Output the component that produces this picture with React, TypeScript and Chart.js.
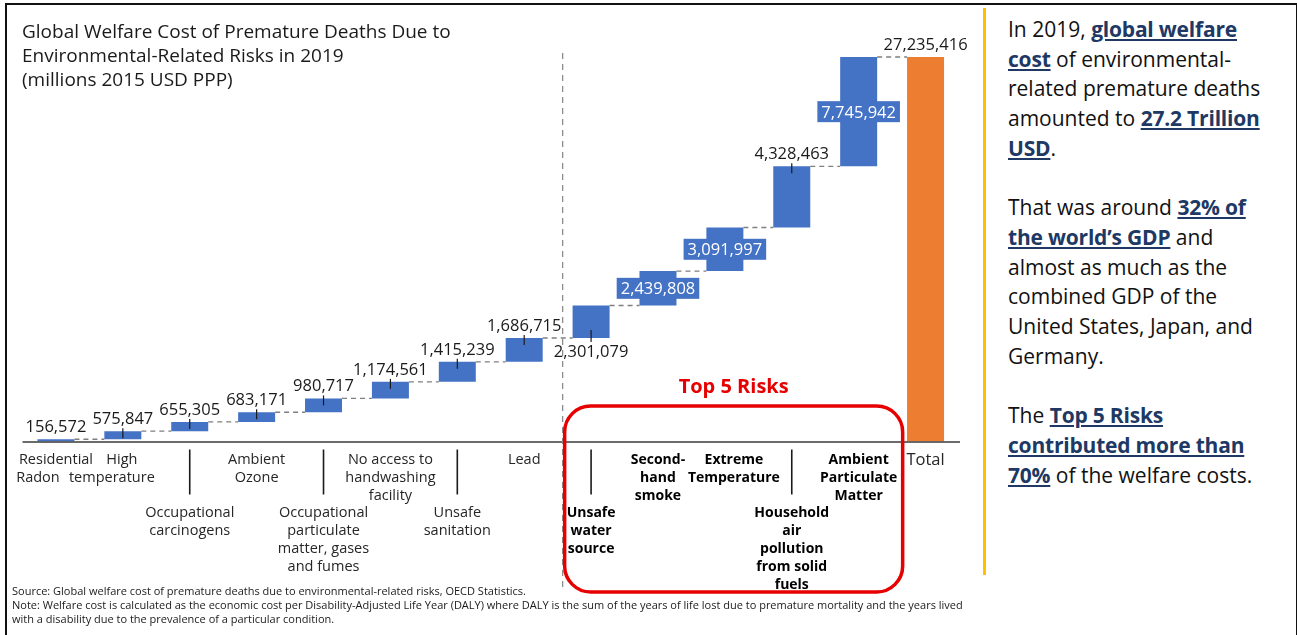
import React, { useEffect, useRef } from 'react';
import { Chart, registerables } from 'chart.js';

Chart.register(...registerables);

// Risk categories, wrapped the way they are printed under the axis
const categories: string[][] = [
  ['Residential', 'Radon'],
  ['High', 'temperature'],
  ['Occupational', 'carcinogens'],
  ['Ambient', 'Ozone'],
  ['Occupational', 'particulate', 'matter, gases', 'and fumes'],
  ['No access to', 'handwashing', 'facility'],
  ['Unsafe', 'sanitation'],
  ['Lead'],
  ['Unsafe', 'water', 'source'],
  ['Second-', 'hand', 'smoke'],
  ['Extreme', 'Temperature'],
  ['Household', 'air', 'pollution', 'from solid', 'fuels'],
  ['Ambient', 'Particulate', 'Matter'],
  ['Total'],
];

// Welfare cost per risk (millions 2015 USD PPP)
const riskCosts: number[] = [
  156572, 575847, 655305, 683171, 980717, 1174561, 1415239, 1686715,
  2301079, 2439808, 3091997, 4328463, 7745942,
];
const totalCost = 27235416;

// Label row under the axis (2 = lower row, reached by a tick line)
const labelRow = [1, 1, 2, 1, 2, 1, 2, 1, 2, 1, 1, 2, 1, 1];
// Where each value label sits relative to its bar
const valuePlacement = [
  'above', 'above', 'above', 'above', 'above', 'above', 'above', 'above',
  'below', 'inside', 'inside', 'above', 'inside', 'above',
];
const topFiveFrom = 8;
const topFiveTo = 12;

const BLUE = '#4472C4';
const ORANGE = '#ED7D31';
const RED = '#E60000';
const FONT = '"Open Sans", "Noto Sans", sans-serif';

const fmt = (v: number) => v.toLocaleString('en-US');

export default function App() {
  const canvasRef = useRef<HTMLCanvasElement | null>(null);

  useEffect(() => {
    const canvas = canvasRef.current;
    if (!canvas) return;

    // floating bars: each risk starts where the previous one ended
    const ranges: [number, number][] = [];
    let running = 0;
    riskCosts.forEach((v) => {
      ranges.push([running, running + v]);
      running += v;
    });
    ranges.push([0, totalCost]);
    const values = [...riskCosts, totalCost];
    const colors = values.map((_, i) => (i === values.length - 1 ? ORANGE : BLUE));

    const overlay = {
      id: 'waterfallOverlay',
      afterDatasetsDraw(chart: any) {
        const { ctx, chartArea } = chart;
        const xs = chart.scales.x;
        const ys = chart.scales.y;
        const meta = chart.getDatasetMeta(0);
        const base = ys.getPixelForValue(0);
        const bars = meta.data as any[];
        ctx.save();

        // axis line
        ctx.strokeStyle = '#3a3a3a';
        ctx.lineWidth = 1.3;
        ctx.beginPath();
        ctx.moveTo(chartArea.left, base + 0.5);
        ctx.lineTo(chartArea.right + 1, base + 0.5);
        ctx.stroke();

        // dashed connectors between consecutive bars
        ctx.strokeStyle = '#7f7f7f';
        ctx.lineWidth = 1.4;
        ctx.setLineDash([5, 4]);
        for (let i = 0; i < bars.length - 1; i++) {
          const b = bars[i];
          const n = bars[i + 1];
          const level = ys.getPixelForValue(ranges[i][1]);
          ctx.beginPath();
          ctx.moveTo(b.x + b.width / 2, level);
          ctx.lineTo(n.x - n.width / 2, level);
          ctx.stroke();
        }

        // separator between the other risks and the top five
        const sepX = (xs.getPixelForValue(topFiveFrom - 1) + xs.getPixelForValue(topFiveFrom)) / 2 + 5;
        ctx.strokeStyle = '#8c8c8c';
        ctx.lineWidth = 1.3;
        ctx.setLineDash([6, 5]);
        ctx.beginPath();
        ctx.moveTo(sepX, 53);
        ctx.lineTo(sepX, base + 150);
        ctx.stroke();
        ctx.setLineDash([]);

        // value labels
        ctx.font = `16.5px ${FONT}`;
        ctx.textAlign = 'center';
        ctx.textBaseline = 'alphabetic';
        bars.forEach((b, i) => {
          const text = fmt(values[i]);
          const top = Math.min(b.y, b.base);
          const bottom = Math.max(b.y, b.base);
          const place = valuePlacement[i];
          if (place === 'inside') {
            const w = ctx.measureText(text).width + 8;
            const cy = (top + bottom) / 2;
            ctx.fillStyle = colors[i];
            ctx.fillRect(b.x - w / 2, cy - 10.5, w, 21);
            ctx.fillStyle = '#ffffff';
            ctx.fillText(text, b.x, cy + 6);
          } else if (place === 'below') {
            ctx.fillStyle = '#1a1a1a';
            ctx.fillText(text, b.x, bottom + 19);
            ctx.strokeStyle = '#1a1a1a';
            ctx.lineWidth = 1.2;
            ctx.beginPath();
            ctx.moveTo(b.x, bottom - 8);
            ctx.lineTo(b.x, bottom + 4);
            ctx.stroke();
          } else {
            ctx.fillStyle = '#1a1a1a';
            ctx.fillText(text, b.x, top - 7);
            if (i > 0 && i < bars.length - 1) {
              ctx.strokeStyle = '#1a1a1a';
              ctx.lineWidth = 1.2;
              ctx.beginPath();
              ctx.moveTo(b.x, top - 3);
              ctx.lineTo(b.x, top + 7);
              ctx.stroke();
            }
          }
        });

        // category labels, two staggered rows
        const lineH = 18;
        categories.forEach((lines, i) => {
          const cx = xs.getPixelForValue(i);
          const bold = i >= topFiveFrom && i <= topFiveTo;
          const isTotal = i === categories.length - 1;
          ctx.font = bold
            ? `bold 14px ${FONT}`
            : isTotal
              ? `16.5px ${FONT}`
              : `14.5px ${FONT}`;
          ctx.fillStyle = bold ? '#000000' : '#262626';
          const y0 = labelRow[i] === 2 ? base + 75 : base + 22;
          lines.forEach((line, k) => {
            let lx = cx;
            if (i === 0 && k === 1) lx = cx - 18;
            if (i === 1) lx = cx + (k === 0 ? -1 : -11);
            if (i === 10) lx = cx + 9;
            ctx.fillText(line, lx, y0 + k * lineH + (isTotal ? 1 : 0));
          });
          if (labelRow[i] === 2) {
            ctx.strokeStyle = '#1a1a1a';
            ctx.lineWidth = 1.6;
            ctx.beginPath();
            ctx.moveTo(cx, base + 8);
            ctx.lineTo(cx, base + 53);
            ctx.stroke();
          }
        });

        // frame around the five largest risks
        const boxL = sepX + 2;
        const boxR = xs.getPixelForValue(topFiveTo) + 44;
        const boxT = base - 35.5;
        const boxB = base + 150.5;
        ctx.strokeStyle = RED;
        ctx.lineWidth = 3.5;
        ctx.beginPath();
        ctx.roundRect(boxL, boxT, boxR - boxL, boxB - boxT, 26);
        ctx.stroke();
        ctx.fillStyle = RED;
        ctx.font = `bold 20px ${FONT}`;
        ctx.fillText('Top 5 Risks', (boxL + boxR) / 2, base - 49);

        ctx.restore();
      },
    };

    const chart = new Chart(canvas, {
      type: 'bar',
      data: {
        labels: categories,
        datasets: [
          {
            data: ranges as any,
            backgroundColor: colors,
            borderWidth: 0,
            barPercentage: 1,
            categoryPercentage: 0.553,
          },
        ],
      },
      options: {
        responsive: false,
        animation: false,
        devicePixelRatio: 1,
        layout: { padding: { left: 22.5, right: 16, top: 46.2, bottom: 193.5 } },
        plugins: { legend: { display: false }, tooltip: { enabled: false } },
        scales: {
          x: { display: false },
          y: { display: false, min: 0, max: 28000000 },
        },
      },
      plugins: [overlay],
    });
    return () => chart.destroy();
  }, []);

  const hl: React.CSSProperties = {
    fontWeight: 700,
    color: '#203864',
    textDecoration: 'underline',
    textDecorationThickness: '1.5px',
    textUnderlineOffset: '2px',
    letterSpacing: '-0.2px',
  };

  return (
    <div
      style={{
        position: 'fixed',
        left: 0,
        top: 0,
        width: 1297,
        height: 635,
        background: '#ffffff',
        overflow: 'hidden',
        fontFamily: FONT,
      }}
    >
      <div
        style={{
          position: 'absolute',
          left: 5,
          top: 3,
          width: 1289,
          height: 640,
          borderTop: '2px solid #111',
          borderLeft: '2px solid #111',
          borderRight: '2px solid #111',
        }}
      />
      <canvas ref={canvasRef} width={975} height={635} style={{ position: 'absolute', left: 0, top: 0 }} />
      <div
        style={{
          position: 'absolute',
          left: 22,
          top: 19,
          fontSize: 19,
          lineHeight: '24px',
          color: '#1a1a1a',
          whiteSpace: 'nowrap',
        }}
      >
        Global Welfare Cost of Premature Deaths Due to
        <br />
        Environmental-Related Risks in 2019
        <br />
        (millions 2015 USD PPP)
      </div>
      <div
        style={{
          position: 'absolute',
          left: 12,
          top: 584,
          fontSize: 11,
          lineHeight: '14px',
          color: '#1a1a1a',
          whiteSpace: 'nowrap',
        }}
      >
        Source: Global welfare cost of premature deaths due to environmental-related risks, OECD Statistics.
        <br />
        Note: Welfare cost is calculated as the economic cost per Disability-Adjusted Life Year (DALY) where DALY is the sum of the years of life lost due to premature mortality and the years lived
        <br />
        with a disability due to the prevalence of a particular condition.
      </div>
      <div
        style={{ position: 'absolute', left: 983, top: 8, width: 3, height: 567, background: '#FFC000' }}
      />
      <div
        style={{
          position: 'absolute',
          left: 1008,
          top: 15,
          fontSize: 21,
          lineHeight: '29.7px',
          color: '#111',
          whiteSpace: 'nowrap',
        }}
      >
        In 2019, <span style={hl}>global welfare</span>
        <br />
        <span style={hl}>cost</span> of environmental-
        <br />
        related premature deaths
        <br />
        amounted to <span style={hl}>27.2 Trillion</span>
        <br />
        <span style={hl}>USD</span>.
        <br />
        <br />
        That was around <span style={hl}>32% of</span>
        <br />
        <span style={hl}>the world’s GDP</span> and
        <br />
        almost as much as the
        <br />
        combined GDP of the
        <br />
        United States, Japan, and
        <br />
        Germany.
        <br />
        <br />
        The <span style={hl}>Top 5 Risks</span>
        <br />
        <span style={hl}>contributed more than</span>
        <br />
        <span style={hl}>70%</span> of the welfare costs.
      </div>
    </div>
  );
}
